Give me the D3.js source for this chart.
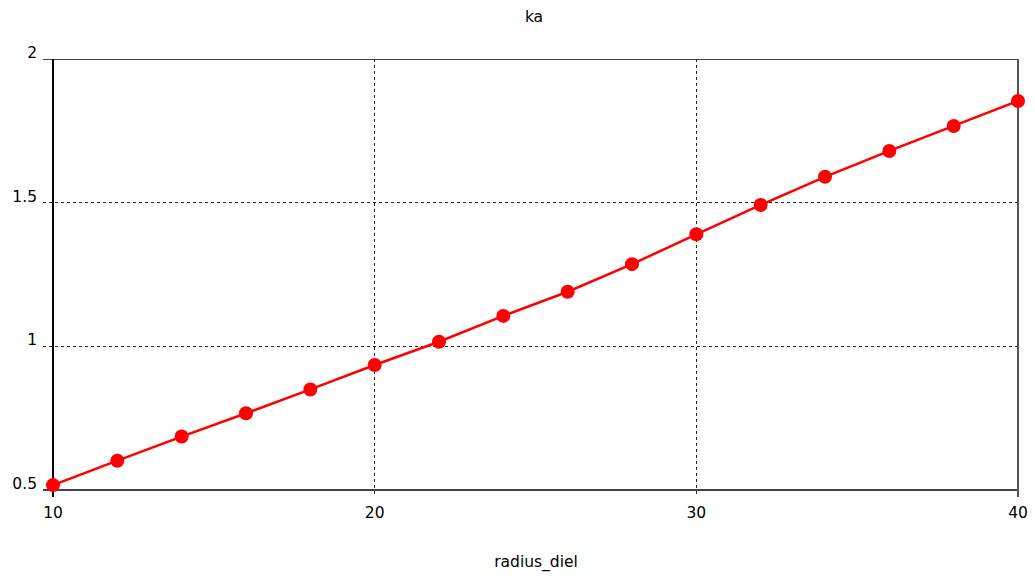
<!DOCTYPE html>
<html><head><meta charset="utf-8">
<script src="https://cdn.jsdelivr.net/npm/d3@7"></script>
<style>body{margin:0;background:#fff;} svg{display:block;} text{font-family:"DejaVu Sans",sans-serif;font-size:15.5px;fill:#000;}</style>
</head><body>
<svg id="c" width="1035" height="581"></svg>
<script>
const radius = [10,12,14,16,18,20,22,24,26,28,30,32,34,36,38,40];
const ka = [0.517,0.602,0.686,0.767,0.850,0.935,1.016,1.106,1.190,1.286,1.390,1.492,1.590,1.680,1.767,1.854];
const xTicks = [10,20,30,40];
const yTicks = [0.5,1,1.5,2];
const titleText = "ka";
const xLabel = "radius_diel";

const L=53,R=1018,T=59,B=490;
const svg=d3.select("#c");
const x=d3.scaleLinear().domain([10,40]).range([L,R]);
const y=d3.scaleLinear().domain([0.5,2]).range([B,T]);

// grid
const g=svg.append("g");
yTicks.forEach(v=>{
  const inner = v>0.5 && v<2;
  g.append("line").attr("x1",L-10).attr("x2",R).attr("y1",y(v)).attr("y2",y(v))
   .attr("stroke", inner?"#222":"#444").attr("stroke-width", v===0.5?2:1)
   .attr("stroke-dasharray", inner?"3,3":null).attr("shape-rendering","crispEdges");
});
xTicks.forEach(v=>{
  const inner = v>10 && v<40;
  g.append("line").attr("x1",x(v)).attr("x2",x(v)).attr("y1",T).attr("y2",B+7)
   .attr("stroke", v===10?"#000":(inner?"#222":"#555")).attr("stroke-width", (v===10||v===40)?2:1)
   .attr("stroke-dasharray", inner?"3,3":null).attr("shape-rendering","crispEdges");
});

// tick labels
yTicks.forEach(v=>{
  svg.append("text").attr("x",L-16).attr("y",y(v)-1).attr("text-anchor","end")
    .text(d3.format("")(v));
});
xTicks.forEach(v=>{
  svg.append("text").attr("x",x(v)).attr("y",B+28).attr("text-anchor","middle").text(v);
});
svg.append("text").attr("x",534).attr("y",22).attr("text-anchor","middle").text(titleText);
svg.append("text").attr("x",536).attr("y",567).attr("text-anchor","middle").text(xLabel);

// series
const line=d3.line().x((d,i)=>x(radius[i])).y(d=>y(d));
svg.append("path").datum(ka).attr("d",line).attr("fill","none").attr("stroke","#ff0000").attr("stroke-width",2.5);
svg.selectAll("circle.pt").data(ka).enter().append("circle").attr("class","pt")
  .attr("cx",(d,i)=>x(radius[i])).attr("cy",d=>y(d)).attr("r",7).attr("fill","#ff0000");
</script>
</body></html>
